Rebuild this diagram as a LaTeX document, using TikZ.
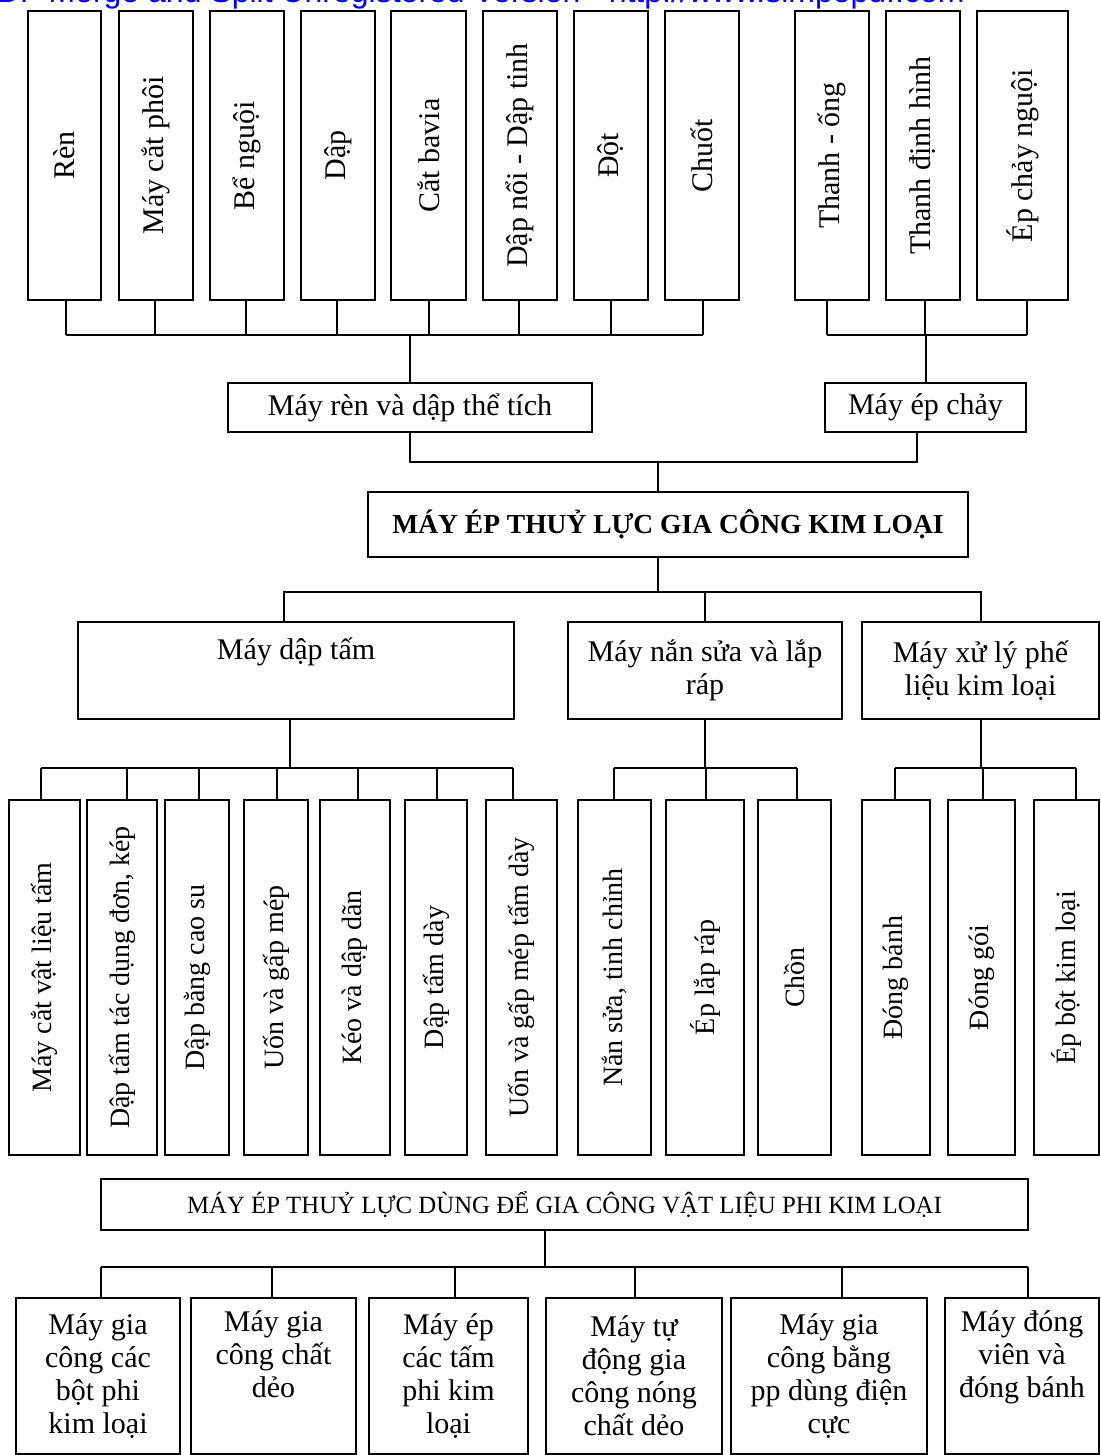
\documentclass[tikz,border=0pt]{standalone}
\usepackage{fontspec}
\setmainfont{Liberation Serif}
\newfontfamily\wmfont{Liberation Sans}

\tikzset{
  box/.style={draw, line width=1pt, inner sep=0pt, outer sep=0pt, align=center},
  topbox/.style={box, minimum height=144.5pt, font=\fontsize{15}{18}\selectfont},
  lowbox/.style={box, minimum height=177.5pt, font=\fontsize{14}{17}\selectfont},
  midbox/.style={box, font=\fontsize{15}{16.5}\selectfont},
  link/.style={line width=1pt},
}

\begin{document}
\begin{tikzpicture}[x=0.5pt, y=-0.5pt]
  \useasboundingbox (0,0) rectangle (1100,1455);
  \node[anchor=base east, inner sep=0pt, text=blue, font=\wmfont\fontsize{16}{18}\selectfont] (wm) at (965,3) {Simpo PDF Merge and Split Unregistered Version - http://www.simpopdf.com};

  % forging and extrusion
  \foreach \n/\x/\w/\s/\lbl in {1/64.5/73/0.75/Rèn, 2/156/74/-0.5/Máy cắt phôi, 3/247/74/-0.5/Bể nguội, 4/338/74/-0.5/Dập, 5/428.5/75/0/Cắt bavia, 6/520/74/-0.5/Dập nổi - Dập tinh, 7/611/74/0/Đột, 8/702/74/0.5/Chuốt, 9/832/74/-2.5/Thanh - ống, 10/923/74/1/Thanh định hình, 11/1022.5/91/2.25/Ép chảy nguội}{
    \node[topbox, minimum width=\w*0.5pt] (t\n) at (\x,155.5) {\rotatebox{90}{\lbl}};
    \coordinate (ts\n) at ([xshift=\s pt]t\n.south);
  }
  \node[midbox, minimum width=182pt, minimum height=24.5pt] (m1) at (410,407.5) {Máy rèn và dập thể tích};
  \node[midbox, minimum width=100.5pt, minimum height=24.5pt] (m2) at (925.5,407.5) {Máy ép chảy};
  \coordinate (busA) at (0,335);
  \foreach \n in {1,...,11} \draw[link] (ts\n) -- (ts\n |- busA);
  \draw[link] (ts1 |- busA) -- (ts8 |- busA);
  \draw[link] (ts9 |- busA) -- (ts11 |- busA);
  \draw[link] (m1.north) -- (m1.north |- busA);
  \draw[link] (m2.north) -- (m2.north |- busA);

  % metal working
  \node[box, minimum width=300pt, minimum height=32.5pt, font=\bfseries\fontsize{13.75}{16}\selectfont] (kl) at (668,524.5) {MÁY ÉP THUỶ LỰC GIA CÔNG KIM LOẠI};
  \coordinate (busB) at (0,462);
  \draw[link] (m1.south) -- (m1.south |- busB) -| ([xshift=-4.25pt]m2.south);
  \draw[link] ([xshift=-5pt]kl.north) -- ([xshift=-5pt]kl.north |- busB);

  \node[midbox, minimum width=218pt, minimum height=48.5pt] (d1) at (296,670.5) {Máy dập tấm\\\strut};
  \node[midbox, minimum width=137pt, minimum height=48.5pt] (d2) at (705,670.5) {Máy nắn sửa và lắp\\ráp};
  \node[midbox, minimum width=118.5pt, minimum height=48.5pt] (d3) at (980.5,670.5) {Máy xử lý phế\\liệu kim loại};
  \coordinate (busC) at (0,592);
  \draw[link] ([xshift=-5pt]kl.south) -- ([xshift=-5pt]kl.south |- busC);
  \draw[link] ([xshift=-6pt]d1.north) |- (busC -| d3.north) -- (d3.north);
  \draw[link] (d2.north) -- (d2.north |- busC);

  \foreach \n/\x/\w/\s/\lbl in {1/44.5/71/-1.75/Máy cắt vật liệu tấm, 2/122/70/2.5/{Dập tấm tác dụng đơn, kép}, 3/197/64/1/Dập bằng cao su, 4/276/64/0.5/Uốn và gấp mép, 5/355/70/1.5/Kéo và dập dãn, 6/436/62/0.5/Dập tấm dày, 7/521.5/71/-4.25/Uốn và gấp mép tấm dày, 8/614.5/73/-0.25/{Nắn sửa, tinh chỉnh}, 9/705/78/0.5/Ép lắp ráp, 10/794.5/73/1.25/Chồn, 11/896/68/-0.5/Đóng bánh, 12/981.5/67/0.75/Đóng gói, 13/1066.5/65/4.75/Ép bột kim loại}{
    \node[lowbox, minimum width=\w*0.5pt] (b\n) at (\x,977.5) {\rotatebox{90}{\lbl}};
    \coordinate (bs\n) at ([xshift=\s pt]b\n.north);
  }
  \coordinate (busD) at (0,768);
  \foreach \n in {1,...,13} \draw[link] (bs\n) -- (bs\n |- busD);
  \draw[link] (bs1 |- busD) -- (bs7 |- busD);
  \draw[link] (bs8 |- busD) -- (bs10 |- busD);
  \draw[link] (bs11 |- busD) -- (bs13 |- busD);
  \draw[link] ([xshift=-3pt]d1.south) -- ([xshift=-3pt]d1.south |- busD);
  \draw[link] (d2.south) -- (d2.south |- busD);
  \draw[link] (d3.south) -- (d3.south |- busD);

  % non-metal working
  \node[box, minimum width=463.5pt, minimum height=25.5pt, font=\fontsize{12.4}{15}\selectfont] (pk) at (564.5,1204.5) {MÁY ÉP THUỶ LỰC DÙNG ĐỂ GIA CÔNG VẬT LIỆU PHI KIM LOẠI};
  \foreach \n/\x/\w/\s/\lbl in {1/98/164/1.5/{Máy gia\\công các\\bột phi\\kim loại}, 2/273.5/165/-0.75/{Máy gia\\công chất\\dẻo\\\strut}, 3/448.5/159/3.25/{Máy ép\\các tấm\\phi kim\\loại}, 4/634/176/0.5/{Máy tự\\động gia\\công nóng\\chất dẻo}, 5/829/196/6.5/{Máy gia\\công bằng\\pp dùng điện\\cực}, 6/1022/154/3/{Máy đóng\\viên và\\đóng bánh\\\strut}}{
    \node[midbox, minimum width=\w*0.5pt, minimum height=78pt] (p\n) at (\x,1376) {\lbl};
    \coordinate (ps\n) at ([xshift=\s pt]p\n.north);
  }
  \coordinate (busE) at (0,1267);
  \draw[link] ([xshift=-10pt]pk.south) -- ([xshift=-10pt]pk.south |- busE);
  \foreach \n in {1,...,6} \draw[link] (ps\n) -- (ps\n |- busE);
  \draw[link] (ps1 |- busE) -- (ps6 |- busE);
\end{tikzpicture}
\end{document}
